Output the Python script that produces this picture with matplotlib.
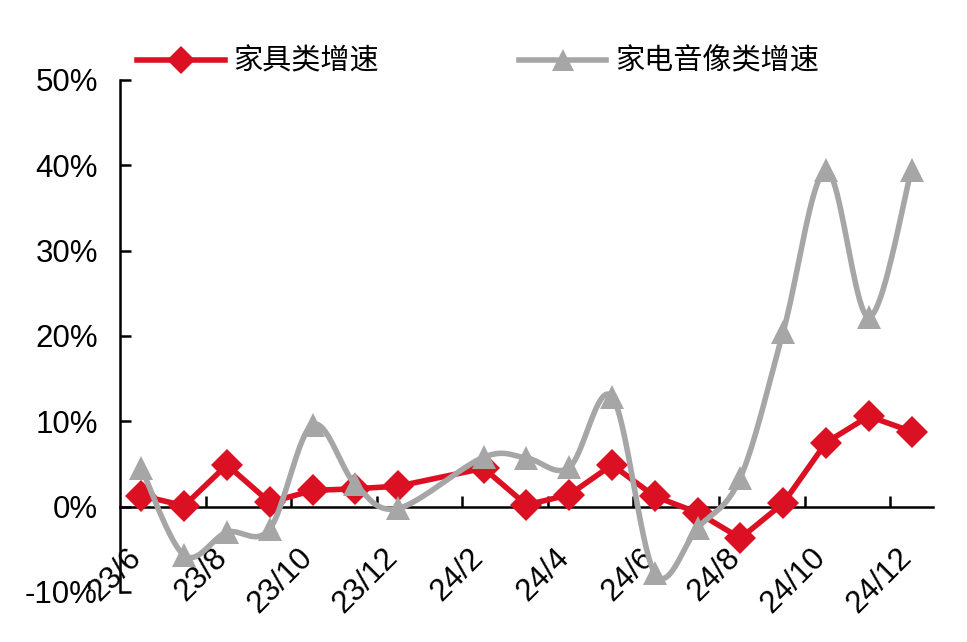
import numpy as np
import matplotlib
matplotlib.use("Agg")
import matplotlib.pyplot as plt
from matplotlib.lines import Line2D
from matplotlib.ticker import FixedLocator, FuncFormatter
from matplotlib.transforms import ScaledTranslation

plt.rcParams['font.family'] = ['Liberation Sans', 'Noto Sans CJK SC', 'DejaVu Sans']

# Monthly categories (24/1 has no data point)
months = ['23/6', '23/7', '23/8', '23/9', '23/10', '23/11', '23/12',
          '24/1', '24/2', '24/3', '24/4', '24/5', '24/6', '24/7',
          '24/8', '24/9', '24/10', '24/11', '24/12']
furniture = [1.3, 0.1, 4.9, 0.5, 1.9, 2.1, 2.4, np.nan, 4.5, 0.2, 1.4,
             4.9, 1.2, -0.7, -3.7, 0.4, 7.5, 10.6, 8.8]
appliance = [4.5, -5.7, -3.0, -2.6, 9.6, 2.6, -0.2, np.nan, 5.8, 5.7, 4.6,
             12.9, -7.8, -2.5, 3.4, 20.5, 39.4, 22.2, 39.5]
names = ['家具类增速', '家电音像类增速']

red = '#DC1023'
grey = '#A6A6A6'


def smooth(xs, ys, n=24):
    # Bezier smoothing through the points, like a spreadsheet "smoothed line"
    pts = np.column_stack([xs, ys])
    out = [pts[:1]]
    t = np.linspace(0, 1, n)[1:, None]
    for i in range(len(pts) - 1):
        p0 = pts[max(i - 1, 0)]
        p1 = pts[i]
        p2 = pts[i + 1]
        p3 = pts[min(i + 2, len(pts) - 1)]
        c1 = p1 + (p2 - p0) / 6.0
        c2 = p2 - (p3 - p1) / 6.0
        seg = (1 - t)**3 * p1 + 3 * (1 - t)**2 * t * c1 + 3 * (1 - t) * t**2 * c2 + t**3 * p2
        out.append(seg)
    return np.vstack(out)


fig = plt.figure(figsize=(9.67, 6.42), dpi=100)
ax = fig.add_axes([0.1241, 0.0779, 0.8407, 0.7975])

x = np.arange(len(months))
# (values, colour, marker, marker size, zorder, smoothed?)
series = [(furniture, red, 'D', 16, 3, False),
          (appliance, grey, '^', 17, 4, True)]
for vals, col, mk, ms, z, sm in series:
    v = np.array(vals, dtype=float)
    ok = ~np.isnan(v)
    if sm:
        curve = smooth(x[ok], v[ok])
    else:
        curve = np.column_stack([x[ok], v[ok]])
    ax.plot(curve[:, 0], curve[:, 1], color=col, lw=4.0, zorder=z,
            solid_capstyle='round', solid_joinstyle='round')
    ax.plot(x[ok], v[ok], linestyle='none', marker=mk, ms=ms, color=col,
            markeredgewidth=0, zorder=z)

ax.set_xlim(-0.5, len(months) - 0.5)
ax.set_ylim(-10, 50)

for s in ['top', 'right']:
    ax.spines[s].set_visible(False)
ax.spines['left'].set_linewidth(1.8)
ax.spines['bottom'].set_linewidth(1.8)
ax.spines['bottom'].set_position(('data', 0))

ax.set_yticks(np.arange(-10, 51, 10))
ax.yaxis.set_major_formatter(FuncFormatter(lambda v, p: '%d%%' % v))
ax.tick_params(axis='y', direction='in', length=8, width=1.8, pad=16,
               labelsize=22.5)

# tick marks between every other category, labels on every other month
ax.xaxis.set_major_locator(FixedLocator(np.arange(1.5, len(months), 2)))
ax.xaxis.set_major_formatter(FuncFormatter(lambda v, p: ''))
ax.xaxis.set_minor_locator(FixedLocator(x[::2]))
ax.set_xticklabels(months[::2], minor=True, rotation=45, ha='right',
                   rotation_mode='default')
ax.tick_params(axis='x', which='major', direction='in', length=8, width=1.8)
ax.tick_params(axis='x', which='minor', length=0, pad=26, labelsize=22.5)
shift = ScaledTranslation(6 / 100, 0, fig.dpi_scale_trans)
for lab in ax.get_xticklabels(minor=True):
    lab.set_transform(lab.get_transform() + shift)

handles = [Line2D([], [], color=red, lw=4.0, marker='D', ms=14, markeredgewidth=0),
           Line2D([], [], color=grey, lw=4.0, marker='^', ms=16, markeredgewidth=0)]
fig.legend(handles, names, loc='center left', bbox_to_anchor=(0.1417, 0.9035),
           ncol=2, frameon=False, fontsize=21, handlelength=3.0,
           handletextpad=0.3, columnspacing=4.8, borderpad=0,
           borderaxespad=0, numpoints=1)

fig.savefig('out.png', dpi=100)
